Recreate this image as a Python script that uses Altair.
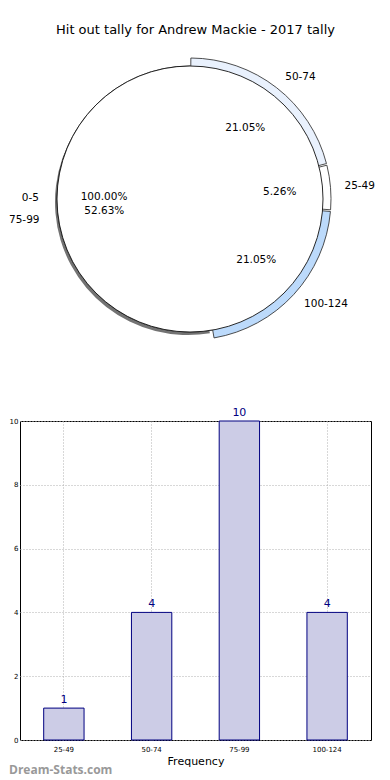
import math
import altair as alt
import pandas as pd

# ---------------- data ----------------
chart_title = "Hit out tally for Andrew Mackie - 2017 tally"

# pie slices, clockwise from 12 o'clock
pie_labels = ["50-74", "25-49", "100-124", "75-99"]
pie_counts = [4, 1, 4, 10]
pie_colors = ["#e9f1fd", "#ffffff", "#bcdafb", "#ffffff"]
pie_order = [0, 1, 2, 3]

# the odd full-circle "0-5" wedge (100 %)
full_labels = ["0-5"]
full_shares = [1.0]

# bar chart
bar_cats = ["25-49", "50-74", "75-99", "100-124"]
bar_vals = [1, 4, 10, 4]
y_ticks = [0, 2, 4, 6, 8, 10]
x_title = "Frequency"
watermark = "Dream-Stats.com"

FONT = "DejaVu Sans"
PFS = 10.5
total = sum(pie_counts)

pie_df = pd.DataFrame({"label": pie_labels, "count": pie_counts, "ord": pie_order})
full_df = pd.DataFrame({"label": full_labels, "share": full_shares})
bar_df = pd.DataFrame({"cat": bar_cats, "val": bar_vals})
wm_df = pd.DataFrame({"t": [watermark]})

# ---------------- pie ----------------
R = 133
CX, CY = 170, 158
theta_sc = alt.Scale(domain=[0, total])

stacked = (
    alt.Chart(pie_df)
    .transform_stack(stack="count", groupby=[], as_=["t0", "t1"],
                     sort=[alt.SortField("ord", order="ascending")])
    .transform_calculate(mid="(datum.t0 + datum.t1) / 2",
                         pct="format(datum.count / %d * 100, '.2f') + '%%'" % total)
    .encode(x=alt.value(CX), y=alt.value(CY))
)

arc_enc = dict(theta=alt.Theta("t0:Q", scale=theta_sc), theta2="t1:Q")

shadow = stacked.transform_filter("datum.label == '75-99'").mark_arc(
    outerRadius=R, fill="#444444", fillOpacity=0.75, xOffset=-2, yOffset=3
).encode(**arc_enc)

exploded = stacked.transform_filter("datum.label != '75-99'").mark_arc(
    outerRadius=R + 8, stroke="#222222", strokeWidth=0.8, padAngle=0.012
).encode(
    fill=alt.Fill("label:N", scale=alt.Scale(domain=pie_labels, range=pie_colors), legend=None),
    **arc_enc,
)

main_slice = stacked.transform_filter("datum.label == '75-99'").mark_arc(
    outerRadius=R, fill="white", stroke="#222222", strokeWidth=0.8
).encode(**arc_enc)

full_base = alt.Chart(full_df).encode(
    x=alt.value(CX), y=alt.value(CY),
    theta=alt.Theta("share:Q", stack=True,
                    scale=alt.Scale(domain=[0, 1], range=[math.pi / 2, 5 * math.pi / 2])),
)
full_circle = full_base.mark_arc(outerRadius=R, fill="white", stroke="#111111", strokeWidth=0.9)
full_label = full_base.mark_text(radius=151, align="right", baseline="middle",
                                 fontSize=PFS, font=FONT, dy=-1, color="black").encode(text="label:N")
full_pct = full_base.transform_calculate(
    pct="format(datum.share * 100, '.2f') + '%'"
).mark_text(radius=86, align="center", baseline="middle", fontSize=PFS, font=FONT,
            dy=-2, color="black").encode(text="pct:N")

txt_theta = alt.Theta("mid:Q", scale=theta_sc, stack=False)
is_right = "datum.mid < %f" % (total / 2)
is_left = "datum.mid >= %f" % (total / 2)

pct_right = stacked.transform_filter(is_right).mark_text(
    radius=90, align="center", baseline="middle", fontSize=PFS, font=FONT, color="black"
).encode(theta=txt_theta, text="pct:N")
pct_left = stacked.transform_filter(is_left).mark_text(
    radius=86, align="center", baseline="middle", fontSize=PFS, font=FONT, color="black", dy=5
).encode(theta=txt_theta, text="pct:N")
lab_right = stacked.transform_filter(is_right).mark_text(
    radius=155, align="left", baseline="middle", fontSize=PFS, font=FONT, color="black"
).encode(theta=txt_theta, text="label:N")
lab_left = stacked.transform_filter(is_left).mark_text(
    radius=151, align="right", baseline="middle", fontSize=PFS, font=FONT, color="black", dy=9
).encode(theta=txt_theta, text="label:N")

pie = alt.layer(
    shadow, exploded, main_slice, full_circle,
    pct_right, pct_left, lab_right, lab_left, full_label, full_pct
).resolve_scale(theta="independent").properties(
    width=351, height=335,
    title=alt.TitleParams(chart_title, fontSize=13, fontWeight="normal", font=FONT,
                          anchor="middle", color="black", offset=4),
)

# ---------------- bars ----------------
xenc = alt.X("cat:N", sort=bar_cats,
             scale=alt.Scale(paddingInner=0, paddingOuter=0),
             axis=alt.Axis(title=x_title, labelAngle=0, labelFontSize=7, labelFont=FONT,
                           labelColor="black", grid=True, gridDash=[1, 2], gridColor="#b0b0b0",
                           ticks=False, domain=False, bandPosition=0.5, labelPadding=5,
                           titleFontSize=11, titleFont=FONT, titleFontWeight="normal",
                           titleColor="black", titlePadding=3))
yenc = alt.Y("val:Q", scale=alt.Scale(domain=[0, 10], nice=False),
             axis=alt.Axis(title=None, values=y_ticks, labelFontSize=7, labelFont=FONT,
                           labelColor="black", grid=True, gridDash=[1, 2], gridColor="#b0b0b0",
                           ticks=False, domain=False, labelPadding=2))

bars = alt.Chart(bar_df).mark_bar(
    fill="#ccccE6", stroke="#000080", strokeWidth=1, width=alt.RelativeBandSize(0.46)
).encode(x=xenc, y=yenc)

vals = alt.Chart(bar_df).mark_text(
    dy=-3, baseline="bottom", color="#000080", fontSize=11, font=FONT
).encode(x=alt.X("cat:N", sort=bar_cats), y="val:Q", text="val:Q")

wm = alt.Chart(wm_df).mark_text(
    align="left", baseline="middle", fontSize=12, font="Open Sans", fontWeight="bold",
    color="#999999"
).encode(text="t:N", x=alt.value(-11), y=alt.value(349))

bar_chart = alt.layer(bars, vals, wm).properties(
    width=351, height=319,
    view=alt.ViewBackground(stroke="black", strokeWidth=1),
)

chart = alt.vconcat(pie, bar_chart, spacing=30).properties(
    padding={"top": 16, "left": 0, "right": 0, "bottom": 0}
).configure(font=FONT).configure_view(strokeWidth=0)

chart.save("out.html", embed_options={"renderer": "svg", "actions": False})
